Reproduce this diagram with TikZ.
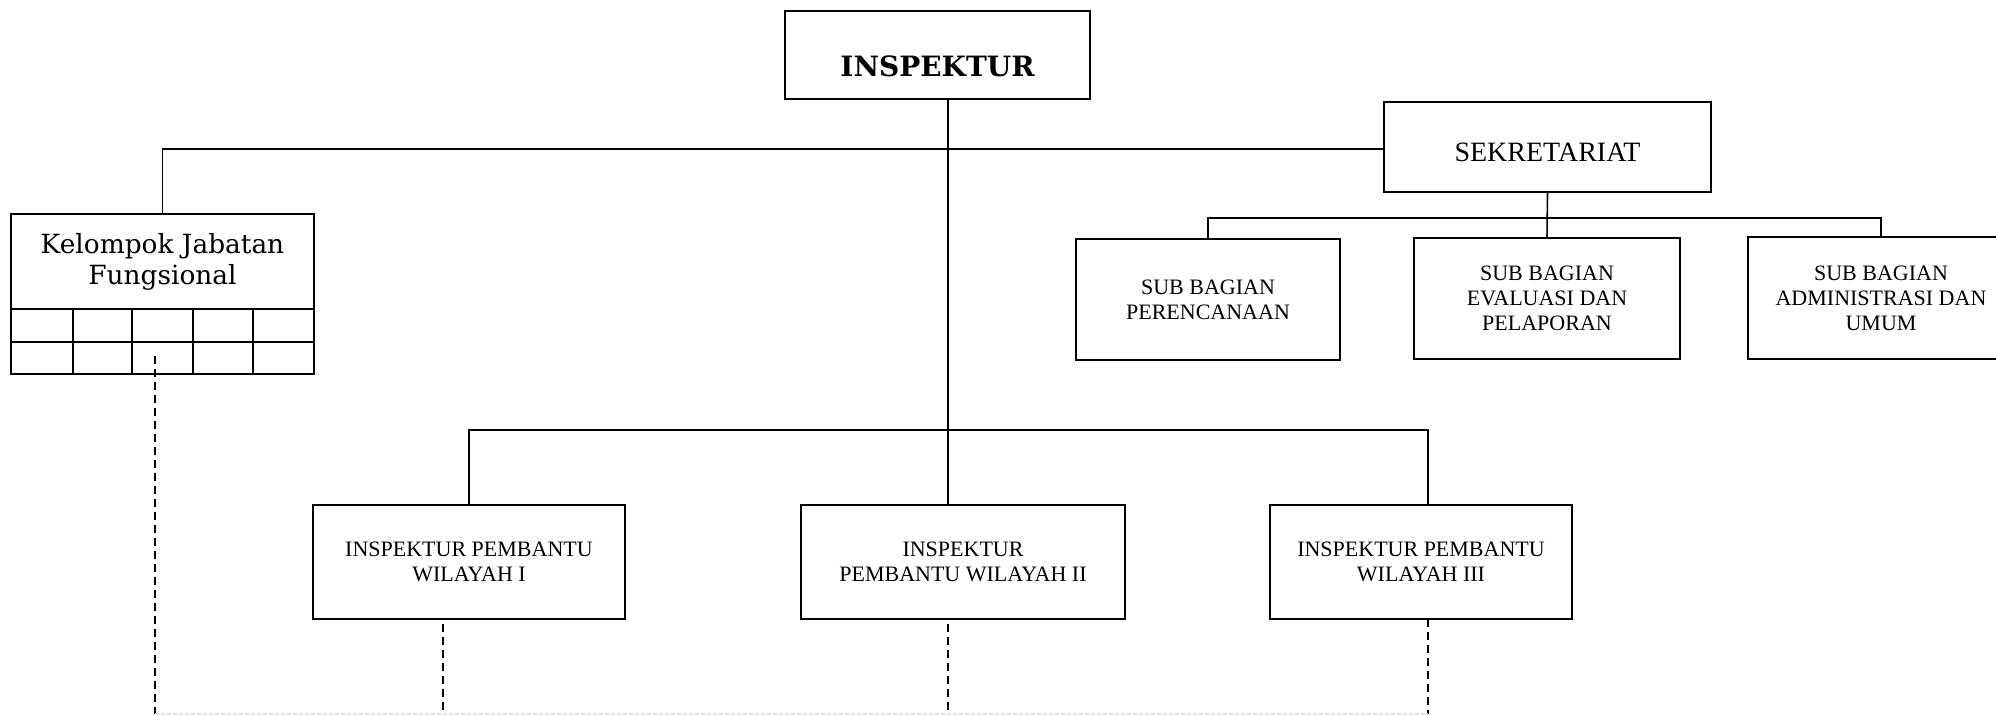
\documentclass[tikz,border=0pt]{standalone}
\usepackage{fontspec}
\setmainfont{Liberation Serif}
\newfontfamily\bookfont{DejaVu Serif}
\usepackage{tikz}
\usetikzlibrary{arrows.meta}

\begin{document}
\begin{tikzpicture}[x=0.5pt,y=-0.5pt]
    \tikzstyle{unit} = [draw,line width=1pt,fill=white,inner sep=0pt,align=center]
    \tikzstyle{link} = [line width=0.8pt]
    \tikzstyle{staff} = [line width=0.6pt,dash pattern=on 4pt off 2.5pt]
    \useasboundingbox (0,0) rectangle (1996,715);
        \node[unit,minimum width=152.5pt,minimum height=44pt,text height=22pt,text depth=0pt,font=\bookfont\bfseries\fontsize{14}{16}\selectfont] (insp) at (937.5,55) {INSPEKTUR};
        \node[unit,minimum width=163.5pt,minimum height=45pt,text height=15pt,text depth=0pt,font=\fontsize{14}{16}\selectfont] (sekr) at (1547.5,147) {SEKRETARIAT};
        \node[unit,minimum width=132pt,minimum height=60.5pt,font=\fontsize{11}{12.5}\selectfont] (sbp) at (1208,299.5) {SUB BAGIAN\\PERENCANAAN};
        \node[unit,minimum width=133pt,minimum height=60.5pt,font=\fontsize{11}{12.5}\selectfont] (sbe) at (1547,298.5) {SUB BAGIAN\\EVALUASI DAN\\PELAPORAN};
        \node[unit,minimum width=133pt,minimum height=61pt,font=\fontsize{11}{12.5}\selectfont] (sba) at (1881,298) {SUB BAGIAN\\ADMINISTRASI DAN\\UMUM};
        \node[unit,minimum width=151.5pt,minimum height=47.5pt,font=\bookfont\fontsize{13.2}{15.5}\selectfont] (kjf) at (162.5,261.5) {Kelompok Jabatan\\Fungsional};
        \node[unit,minimum width=156pt,minimum height=57pt,font=\fontsize{11}{12.7}\selectfont] (wil1) at (469,562) {INSPEKTUR PEMBANTU\\WILAYAH I};
        \node[unit,minimum width=162pt,minimum height=57pt,font=\fontsize{11}{12.7}\selectfont] (wil2) at (963,562) {INSPEKTUR\\PEMBANTU WILAYAH II};
        \node[unit,minimum width=151pt,minimum height=57pt,font=\fontsize{11}{12.7}\selectfont] (wil3) at (1421,562) {INSPEKTUR PEMBANTU\\WILAYAH III};
        % grid under Kelompok Jabatan Fungsional
        \draw[line width=1pt] (11,309) rectangle (314,374);
        \draw[line width=1pt] (11,342) -- (314,342);
        \draw[line width=1pt] (73,309) -- (73,374);
        \draw[line width=1pt] (132,309) -- (132,374);
        \draw[line width=1pt] (193,309) -- (193,374);
        \draw[line width=1pt] (253,309) -- (253,374);
        % bus points
        \coordinate (trunk) at (948,149);
        \coordinate (sbus) at (1547.5,218);
        \coordinate (wbus) at (948,430);
        \coordinate (w3top) at (1428,430);
        \coordinate (kdash) at (155,356);
        \coordinate (w1dash) at (443,624);
        \coordinate (w2dash) at (948,624);
        \coordinate (w3dash) at (1428,619);
        \coordinate (base) at (155,714);
        \draw[link] (insp.south -| trunk) -- (wil2.north -| trunk);
        \draw[link] (kjf.north) |- (sekr.west |- trunk);
        \draw[link] (sekr.south) -- (sbe.north);
        \draw[link] (sbp.north) |- (sbus) -| (sba.north);
        \draw[link] (wil1.north) |- (wbus) -| (w3top) -- (w3top |- wil3.north);
        % staff lines
        \draw[staff] (kdash) -- (kdash |- base);
        \draw[staff] (w1dash) -- (w1dash |- base);
        \draw[staff] (w2dash) -- (w2dash |- base);
        \draw[staff] (w3dash) -- (w3dash |- base);
        \draw[line width=0.6pt,black!12,dash pattern=on 2pt off 1pt] (base) -- (w3dash |- base);
    \end{tikzpicture}
\end{document}
